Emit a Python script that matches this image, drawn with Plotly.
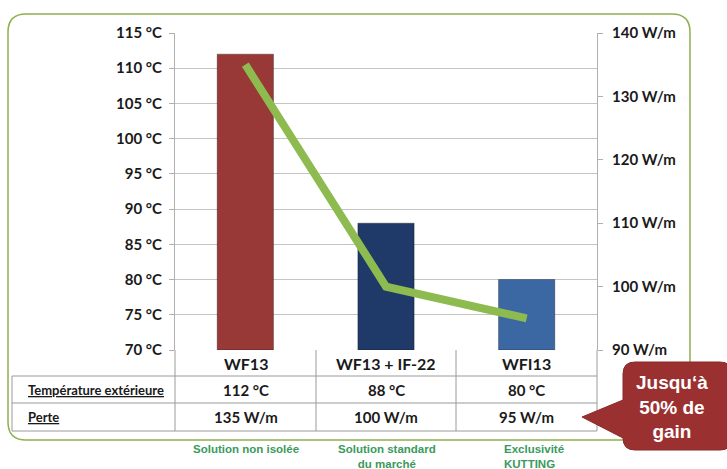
import plotly.graph_objects as go

# ---------------- data ----------------
categories = ["WF13", "WF13 + IF-22", "WFI13"]
temperature = [112, 88, 80]          # °C (left axis, bars)
loss = [135, 100, 95]                # W/m (right axis, line)
temp_labels = ["112 °C", "88 °C", "80 °C"]
loss_labels = ["135 W/m", "100 W/m", "95 W/m"]
row_titles = ["Température extérieure", "Perte"]
solution_notes = ["Solution non isolée", "Solution standard<br>du marché", "Exclusivité<br>KUTTING"]
left_ticks = [70, 75, 80, 85, 90, 95, 100, 105, 110, 115]
right_ticks = [90, 100, 110, 120, 130, 140]
bar_colors = ["#983837", "#1f3a68", "#3b68a3"]
callout_text = "Jusqu‘à<br>50% de<br>gain"

# ---------------- layout geometry (pixels) ----------------
W, H = 727, 469
L, R, T, B = 175, 597, 33, 350


def px(x):
    return (x - L) / (R - L)


def py(y):
    return (B - y) / (B - T)


def rrect(x0, y0, x1, y1, r):
    return (f"M {px(x0 + r)} {py(y0)} L {px(x1 - r)} {py(y0)} "
            f"Q {px(x1)} {py(y0)} {px(x1)} {py(y0 + r)} "
            f"L {px(x1)} {py(y1 - r)} Q {px(x1)} {py(y1)} {px(x1 - r)} {py(y1)} "
            f"L {px(x0 + r)} {py(y1)} Q {px(x0)} {py(y1)} {px(x0)} {py(y1 - r)} "
            f"L {px(x0)} {py(y0 + r)} Q {px(x0)} {py(y0)} {px(x0 + r)} {py(y0)} Z")


fig = go.Figure()

fig.add_trace(go.Bar(
    x=categories, y=[t - 70 for t in temperature], base=70,
    marker=dict(color=bar_colors, line=dict(color="rgba(0,0,0,0.3)", width=1)),
    width=0.4, showlegend=False, hoverinfo="skip",
))

fig.add_trace(go.Scatter(
    x=categories, y=loss, yaxis="y2", mode="lines",
    line=dict(color="#8dbb4f", width=8), showlegend=False, hoverinfo="skip",
))

TICKFONT = dict(family="Lato, 'Open Sans', sans-serif", size=15, color="#1a1a1a", weight="bold")

fig.update_layout(
    width=W, height=H,
    margin=dict(l=L, r=W - R, t=T, b=H - B),
    paper_bgcolor="white", plot_bgcolor="white",
    bargap=0.6,
    xaxis=dict(showticklabels=False, showgrid=False, showline=False, zeroline=False,
               range=[-0.5, 2.5]),
    yaxis=dict(range=[70, 115], tickvals=left_ticks,
               ticktext=[f"{v} °C" for v in left_ticks],
               showgrid=True, gridcolor="#c4c4c4", gridwidth=1,
               showline=True, linecolor="#b0b0b0", linewidth=1,
               ticks="outside", ticklen=5, tickcolor="#b0b0b0",
               tickfont=TICKFONT, zeroline=False, ticklabelstandoff=4),
    yaxis2=dict(range=[90, 140], tickvals=right_ticks,
                ticktext=[f"{v} W/m" for v in right_ticks],
                overlaying="y", side="right", showgrid=False,
                showline=True, linecolor="#b0b0b0", linewidth=1,
                ticks="outside", ticklen=5, tickcolor="#b0b0b0",
                tickfont=TICKFONT, zeroline=False, ticklabelstandoff=6),
)

shapes = []
# outer green rounded frame
shapes.append(dict(type="path", xref="paper", yref="paper", path=rrect(8, 14, 690, 440, 18),
                   line=dict(color="#8fb050", width=1.5), fillcolor="rgba(0,0,0,0)", layer="below"))

GRID = "#9a9a9a"
row_y = [350, 376, 403, 431]
col_x = [175, 316, 456, 597]
# horizontal table lines
for y in row_y[1:]:
    shapes.append(dict(type="line", xref="paper", yref="paper", x0=px(12), x1=px(597),
                       y0=py(y), y1=py(y), line=dict(color=GRID, width=1)))
# vertical table lines
shapes.append(dict(type="line", xref="paper", yref="paper", x0=px(12), x1=px(12),
                   y0=py(376), y1=py(431), line=dict(color=GRID, width=1)))
for x in col_x:
    shapes.append(dict(type="line", xref="paper", yref="paper", x0=px(x), x1=px(x),
                       y0=py(350), y1=py(431), line=dict(color=GRID, width=1)))

# callout bubble
bx0, by0, bx1, by1, r = 623, 362, 732, 450, 12
bubble = (f"M {px(bx0 + r)} {py(by0)} L {px(bx1 - r)} {py(by0)} "
          f"Q {px(bx1)} {py(by0)} {px(bx1)} {py(by0 + r)} "
          f"L {px(bx1)} {py(by1 - r)} Q {px(bx1)} {py(by1)} {px(bx1 - r)} {py(by1)} "
          f"L {px(bx0 + r)} {py(by1)} Q {px(bx0)} {py(by1)} {px(bx0)} {py(by1 - r)} "
          f"L {px(bx0)} {py(438)} L {px(582)} {py(417)} L {px(bx0)} {py(400)} "
          f"L {px(bx0)} {py(by0 + r)} Q {px(bx0)} {py(by0)} {px(bx0 + r)} {py(by0)} Z")
shapes.append(dict(type="path", xref="paper", yref="paper", path=bubble,
                   line=dict(color="#8a2a2a", width=1), fillcolor="#9b3030", layer="above"))
fig.update_layout(shapes=shapes)

ann = []
TF = dict(family="Lato, 'Open Sans', sans-serif", size=15, color="#1a1a1a", weight="bold")
centers = [(col_x[i] + col_x[i + 1]) / 2 for i in range(3)]
for i, c in enumerate(categories):
    ann.append(dict(x=px(centers[i]), y=py(363), xref="paper", yref="paper", text=c,
                    showarrow=False, font=dict(TF, size=16), xanchor="center", yanchor="middle"))
    ann.append(dict(x=px(centers[i]), y=py(390), xref="paper", yref="paper", text=temp_labels[i],
                    showarrow=False, font=TF, xanchor="center", yanchor="middle"))
    ann.append(dict(x=px(centers[i]), y=py(417), xref="paper", yref="paper", text=loss_labels[i],
                    showarrow=False, font=TF, xanchor="center", yanchor="middle"))

for j, t in enumerate(row_titles):
    ann.append(dict(x=px(26), y=py([390, 417][j]), xref="paper", yref="paper", text=t,
                    showarrow=False, xanchor="left", yanchor="middle",
                    font=dict(family="Lato, 'Open Sans', sans-serif", size=13, color="#1a1a1a",
                              weight="bold", lineposition="under")))

note_x = [246, 387, 502]
note_anchor = ["center", "center", "left"]
note_align = ["center", "center", "left"]
for i, t in enumerate(solution_notes):
    ann.append(dict(x=px(note_x[i]), y=py(441), xref="paper", yref="paper", text=t,
                    showarrow=False, xanchor=note_anchor[i], yanchor="top", align=note_align[i],
                    font=dict(family="Liberation Sans, Arial, sans-serif", size=11.5,
                              color="#3a9a5c", weight="bold")))

ann.append(dict(x=px(672), y=py(407), xref="paper", yref="paper", text=callout_text,
                showarrow=False, xanchor="center", yanchor="middle", align="center",
                font=dict(family="Liberation Sans, Arial, sans-serif", size=19,
                          color="white", weight="bold")))
fig.update_layout(annotations=ann)

fig.write_html("out.html", config={"displayModeBar": False},
               post_script="document.body.style.margin='0px';")
